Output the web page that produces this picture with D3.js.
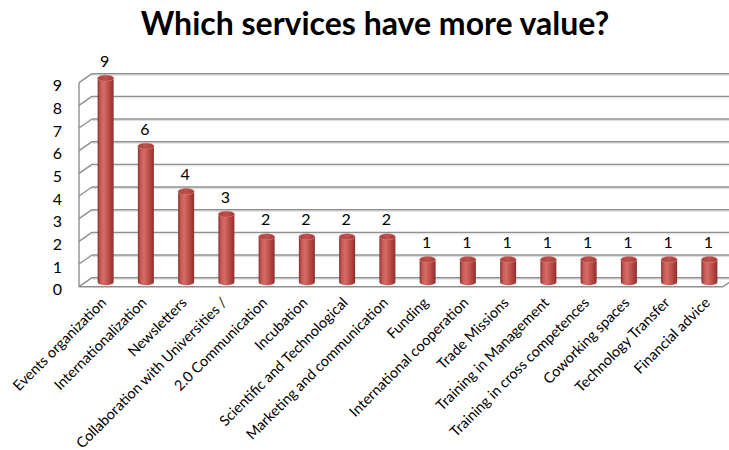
<!DOCTYPE html>
<html>
<head>
<meta charset="utf-8">
<script src="https://cdn.jsdelivr.net/npm/d3@7/dist/d3.min.js"></script>
<style>
  html, body { margin: 0; padding: 0; background: #ffffff; }
  svg { display: block; }
  text { font-family: Lato, "Open Sans", sans-serif; fill: #000; }
</style>
</head>
<body>
<svg id="chart" width="729" height="450"></svg>
<script>
// Survey results: number of mentions per service
const categories = [
  "Events organization", "Internationalization", "Newsletters",
  "Collaboration with Universities /", "2.0 Communication", "Incubation",
  "Scientific and Technological", "Marketing and communication", "Funding",
  "International cooperation", "Trade Missions", "Training in Management",
  "Training in cross competences", "Coworking spaces", "Technology Transfer",
  "Financial advice"
];
const values = [9, 6, 4, 3, 2, 2, 2, 2, 1, 1, 1, 1, 1, 1, 1, 1];
const yTicks = [0, 1, 2, 3, 4, 5, 6, 7, 8, 9];
const title = "Which services have more value?";

const W = 729, H = 450;
const svg = d3.select("#chart");

// 3D box: front plane plus a depth offset toward the back wall
const depth = { dx: 13, dy: -9 };
const x = d3.scaleBand().domain(categories).range([79, 723]).paddingInner(0).paddingOuter(0);
const y = d3.scaleLinear().domain([0, 9]).range([286.7, 82.7]);

// Gradients for the cylinders
const defs = svg.append("defs");
const body = defs.append("linearGradient").attr("id", "cylBody")
  .attr("x1", "0%").attr("x2", "100%").attr("y1", "0%").attr("y2", "0%");
[["0%", "#8e302e"], ["18%", "#c85a56"], ["38%", "#d46c68"], ["65%", "#bf4f4b"], ["90%", "#9e3835"], ["100%", "#86302d"]]
  .forEach(([o, c]) => body.append("stop").attr("offset", o).attr("stop-color", c));
const cap = defs.append("linearGradient").attr("id", "cylTop")
  .attr("x1", "0%").attr("x2", "100%").attr("y1", "0%").attr("y2", "0%");
[["0%", "#a83f3c"], ["50%", "#c0504d"], ["100%", "#a03a37"]]
  .forEach(([o, c]) => cap.append("stop").attr("offset", o).attr("stop-color", c));

// Walls and gridlines
const grid = svg.append("g");
const x0 = x.range()[0], x1 = x.range()[1];
yTicks.forEach(v => {
  const yf = y(v), yb = y(v) + depth.dy;
  // light bevel under each gridline
  grid.append("line").attr("x1", x0 + depth.dx).attr("x2", W + 20)
    .attr("y1", yb + 1.5).attr("y2", yb + 1.5).attr("stroke", "#dcdcdc").attr("stroke-width", 1);
  grid.append("line").attr("x1", x0 + depth.dx).attr("x2", W + 20)
    .attr("y1", yb).attr("y2", yb).attr("stroke", "#8f8f8f").attr("stroke-width", 1.4);
  grid.append("line").attr("x1", x0).attr("x2", x0 + depth.dx)
    .attr("y1", yf).attr("y2", yb).attr("stroke", "#8f8f8f").attr("stroke-width", 1.4);
});
// front-left edge of the side wall
grid.append("line").attr("x1", x0).attr("x2", x0)
  .attr("y1", y(9)).attr("y2", y(0)).attr("stroke", "#8f8f8f").attr("stroke-width", 1.4);
// front and right edges of the floor
grid.append("line").attr("x1", x0).attr("x2", x1)
  .attr("y1", y(0)).attr("y2", y(0)).attr("stroke", "#8f8f8f").attr("stroke-width", 1.4);
grid.append("line").attr("x1", x1).attr("x2", x1 + depth.dx)
  .attr("y1", y(0)).attr("y2", y(0) + depth.dy).attr("stroke", "#8f8f8f").attr("stroke-width", 1.4);

// Y-axis tick labels
svg.append("g").selectAll("text").data(yTicks).join("text")
  .attr("x", 62).attr("y", d => y(d) + 3)
  .attr("dy", "0.35em").attr("text-anchor", "end")
  .style("font-size", "16px").text(d => d);

// Cylinders sit at mid-depth
const rx = 8, ry = 3;
const cx = d => x(d) + x.bandwidth() / 2 + depth.dx / 2;
const yMid = v => y(v) + depth.dy / 2;

const bars = svg.append("g").selectAll("g").data(categories.map((c, i) => ({ c, v: values[i] }))).join("g");
bars.append("path")
  .attr("d", d => {
    const c = cx(d.c), t = yMid(d.v), b = yMid(0);
    return `M${c - rx},${t} L${c - rx},${b} A${rx},${ry} 0 0 0 ${c + rx},${b} L${c + rx},${t} A${rx},${ry} 0 0 1 ${c - rx},${t} Z`;
  })
  .attr("fill", "url(#cylBody)");
bars.append("ellipse")
  .attr("cx", d => cx(d.c)).attr("cy", d => yMid(d.v))
  .attr("rx", rx).attr("ry", ry)
  .attr("fill", "url(#cylTop)").attr("stroke", "#cf6663").attr("stroke-width", 0.6);

// Value labels
bars.append("text")
  .attr("x", d => cx(d.c) - 1).attr("y", d => yMid(d.v) - 17)
  .attr("dy", "0.35em").attr("text-anchor", "middle")
  .style("font-size", "16px").text(d => d.v);

// Category labels, rotated
svg.append("g").selectAll("text").data(categories).join("text")
  .attr("transform", d => `translate(${cx(d) - 2},${300}) rotate(-45)`)
  .attr("dy", "0.35em").attr("text-anchor", "end")
  .style("font-size", "14.5px").text(d => d);

// Title
svg.append("text")
  .attr("x", 375).attr("y", 35).attr("text-anchor", "middle")
  .style("font-size", "32px").style("font-weight", "bold").text(title);
</script>
</body>
</html>
